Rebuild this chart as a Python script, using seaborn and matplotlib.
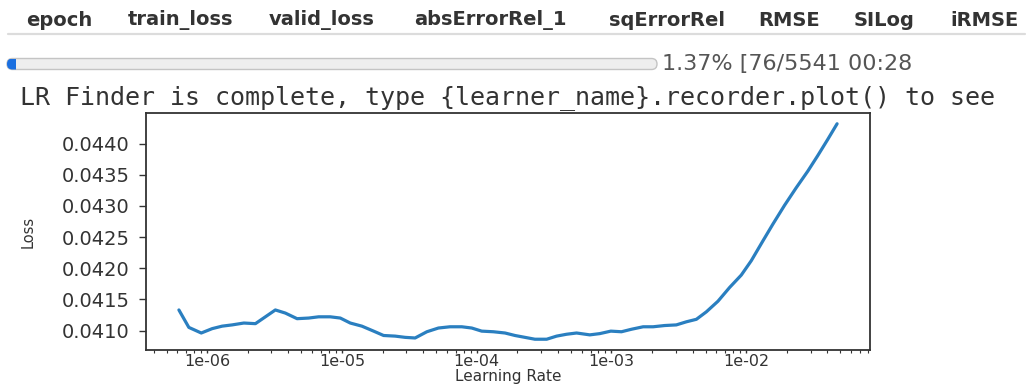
import matplotlib
matplotlib.use("Agg")
import matplotlib.pyplot as plt
import matplotlib.ticker as mticker
from matplotlib.patches import FancyBboxPatch, Rectangle
from matplotlib.lines import Line2D
from matplotlib.transforms import IdentityTransform
import pandas as pd
import seaborn as sns

# Metric columns shown in the training table header
metric_columns = ["epoch", "train_loss", "valid_loss", "absErrorRel_1",
                  "sqErrorRel", "RMSE", "SILog", "iRMSE"]

# Progress of the LR range test
iters_done = 76
iters_total = 5541
elapsed = "00:28"

status_message = "LR Finder is complete, type {learner_name}.recorder.plot() to see"

# Recorded learning rates and smoothed losses
learning_rates = [
    6.17e-7, 7.31e-7, 9.04e-7, 1.089e-6, 1.291e-6, 1.531e-6, 1.871e-6, 2.280e-6,
    2.704e-6, 3.206e-6, 3.802e-6, 4.645e-6, 5.662e-6, 6.714e-6, 8.185e-6, 9.727e-6,
    1.153e-5, 1.406e-5, 1.718e-5, 2.037e-5, 2.483e-5, 2.944e-5, 3.491e-5, 4.266e-5,
    5.200e-5, 6.339e-5, 7.745e-5, 9.183e-5, 1.089e-4, 1.330e-4, 1.622e-4, 1.923e-4,
    2.280e-4, 2.704e-4, 3.304e-4, 3.917e-4, 4.645e-4, 5.508e-4, 6.902e-4, 8.185e-4,
    9.886e-4, 1.186e-3, 1.406e-3, 1.718e-3, 2.037e-3, 2.483e-3, 3.027e-3, 3.597e-3,
    4.266e-3, 5.058e-3, 6.166e-3, 7.516e-3, 9.183e-3, 1.089e-2, 1.330e-2, 1.578e-2,
    1.923e-2, 2.344e-2, 2.864e-2, 3.396e-2, 4.027e-2, 4.721e-2,
]
losses = [
    0.04133, 0.04105, 0.04096, 0.04103, 0.04107, 0.04109, 0.04112, 0.04111,
    0.04122, 0.04133, 0.04128, 0.04119, 0.04120, 0.04122, 0.04122, 0.04120,
    0.04112, 0.04107, 0.04099, 0.04092, 0.04091, 0.04089, 0.04088, 0.04098,
    0.04104, 0.04106, 0.04106, 0.04104, 0.04099, 0.04098, 0.04096, 0.04092,
    0.04089, 0.04086, 0.04086, 0.04091, 0.04094, 0.04096, 0.04093, 0.04095,
    0.04099, 0.04098, 0.04102, 0.04106, 0.04106, 0.04108, 0.04109, 0.04114,
    0.04118, 0.04130, 0.04147, 0.04169, 0.04189, 0.04212, 0.04244, 0.04271,
    0.04301, 0.04329, 0.04356, 0.04381, 0.04407, 0.04432,
]

loss_ticks = [0.0410, 0.0415, 0.0420, 0.0425, 0.0430, 0.0435, 0.0440]
lr_ticks = [1e-6, 1e-5, 1e-4, 1e-3, 1e-2]

sns.set_theme(style="ticks")
plt.rcParams["font.family"] = ["DejaVu Sans"]

W, H = 1026, 384
fig = plt.figure(figsize=(W / 100, H / 100), dpi=100)
fig.patch.set_facecolor("white")
px = IdentityTransform()

# --- notebook output above the plot ---------------------------------------
header_centers = [59, 181, 322, 490, 667, 789, 884, 985]
for name, cx in zip(metric_columns, header_centers):
    fig.text(cx, H - 20, name, transform=px, ha="center", va="center",
             fontsize=14, fontweight="bold", color="#333333")
fig.add_artist(Line2D([8, 1025], [H - 34, H - 34], transform=px,
                      color="#dcdcdc", lw=1.6))

bar_x0, bar_x1, bar_yc, bar_h = 7, 657, H - 64, 11
bar = FancyBboxPatch((bar_x0, bar_yc - bar_h / 2), bar_x1 - bar_x0, bar_h,
                     boxstyle="round,pad=0,rounding_size=5.5", transform=px,
                     facecolor="#eeeeee", edgecolor="#c4c4c4", lw=1.0)
fig.add_artist(bar)
frac = iters_done / iters_total
fill = Rectangle((bar_x0, bar_yc - bar_h / 2), (bar_x1 - bar_x0) * frac, bar_h,
                 transform=px, facecolor="#1a6fe0", edgecolor="none")
fig.add_artist(fill)
fill.set_clip_path(bar)
fig.text(662, bar_yc, f"{100 * frac:.2f}% [{iters_done}/{iters_total} {elapsed}",
         transform=px, ha="left", va="center", fontsize=16, color="#555555")

fig.text(20, H - 98, status_message, transform=px, ha="left", va="center",
         fontsize=18, family="DejaVu Sans Mono", color="#333333")

# --- LR finder plot ---------------------------------------------------------
ax = fig.add_axes([146 / W, (H - 350) / H, (870 - 146) / W, (350 - 113) / H])
ax.set_xscale("log")
df = pd.DataFrame({"lr": learning_rates, "loss": losses})
sns.lineplot(data=df, x="lr", y="loss", ax=ax, color="#2a7fc0", lw=2.3)

ax.set_xticks(lr_ticks)
ax.xaxis.set_major_formatter(mticker.FormatStrFormatter("%.0e"))
ax.xaxis.set_minor_formatter(mticker.NullFormatter())
ax.set_yticks(loss_ticks)
ax.yaxis.set_major_formatter(mticker.FormatStrFormatter("%.4f"))

for side in ax.spines.values():
    side.set_color("#333333")
    side.set_linewidth(1.3)
ax.tick_params(axis="x", which="major", length=2.5, width=1.0, pad=0.5,
               labelsize=11.5, colors="#333333")
ax.tick_params(axis="x", which="minor", length=1.8, width=0.8, color="#333333")
ax.tick_params(axis="y", which="major", length=5, width=1.0, pad=7,
               labelsize=14, colors="#333333")

ax.set_xlabel("Learning Rate", fontsize=11, color="#333333")
ax.set_ylabel("Loss", fontsize=10.5, color="#333333")
ax.xaxis.set_label_coords(0.5, -(384 - 350) / (350 - 113))
ax.xaxis.label.set_va("bottom")
ax.yaxis.set_label_coords(-0.163, 0.5)
ax.yaxis.label.set_va("center")

fig.savefig("out.png", dpi=100)
